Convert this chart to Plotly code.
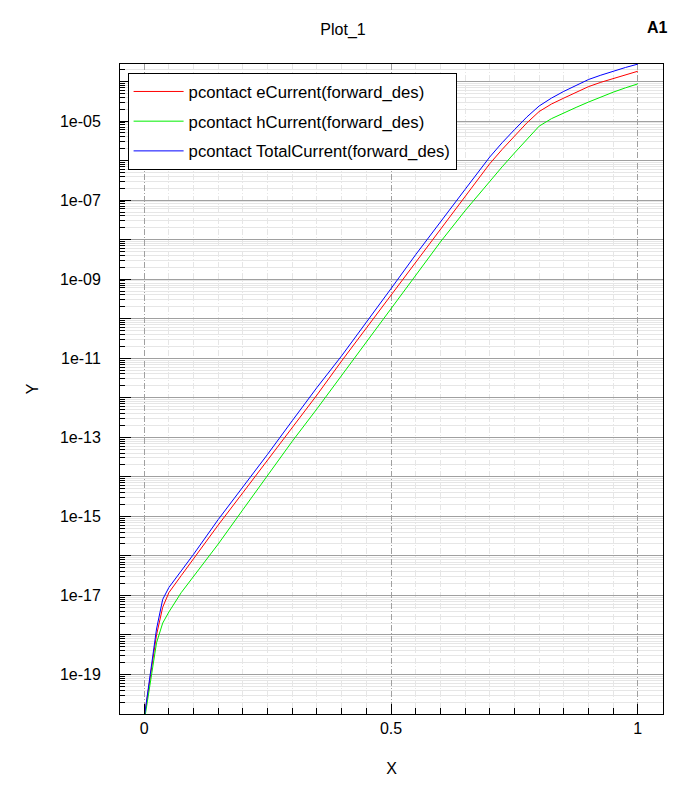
import plotly.graph_objects as go

# ---- data ----
x_bias = [0, 0.0125, 0.025, 0.0375, 0.05, 0.075, 0.1, 0.15, 0.2, 0.25, 0.3, 0.35,
          0.4, 0.45, 0.5, 0.55, 0.6, 0.65, 0.7, 0.725, 0.75, 0.775, 0.8, 0.825, 0.85,
          0.875, 0.9, 0.925, 0.95, 0.975, 1.0]

# log10 of the currents
e_current_log10 = [-20.1, -19.0, -18.0, -17.3, -16.93, -16.5, -16.07, -15.22, -14.4,
                   -13.58, -12.75, -11.93, -11.07, -10.24, -9.4, -8.58, -7.72, -6.9,
                   -6.08, -5.72, -5.38, -5.05, -4.76, -4.57, -4.42, -4.265, -4.13,
                   -4.02, -3.92, -3.825, -3.74]
h_current_log10 = [-20.2, -19.15, -18.2, -17.7, -17.42, -16.93, -16.52, -15.7, -14.83,
                   -13.95, -13.1, -12.28, -11.44, -10.58, -9.75, -8.9, -8.06, -7.27,
                   -6.52, -6.16, -5.81, -5.46, -5.13, -4.94, -4.79, -4.655, -4.52,
                   -4.39, -4.27, -4.16, -4.06]
total_current_log10 = [-20.1, -19.0, -17.85, -17.1, -16.8, -16.38, -15.96, -15.08, -14.27,
                       -13.43, -12.58, -11.74, -10.94, -10.1, -9.24, -8.38, -7.54, -6.73,
                       -5.91, -5.55, -5.22, -4.9, -4.62, -4.42, -4.25, -4.09, -3.95,
                       -3.84, -3.74, -3.645, -3.56]

series_names = ["pcontact eCurrent(forward_des)",
                "pcontact hCurrent(forward_des)",
                "pcontact TotalCurrent(forward_des)"]
series_colors = ["#ff0000", "#00ee00", "#0000ff"]

decade_exponents = list(range(-20, -3))
x_major_ticks = [0, 0.5, 1]
x_major_labels = ["0", "0.5", "1"]

# ---- figure ----
# the page body adds an 8px offset, so the figure is 8px smaller than the window
FONT = "Liberation Sans, Arial, sans-serif"
W, H = 679, 793
fig = go.Figure()
for i, (name, vals, col) in enumerate(zip(series_names,
                                          [e_current_log10, h_current_log10, total_current_log10],
                                          series_colors)):
    fig.add_trace(go.Scatter(
        x=x_bias, y=[10 ** v for v in vals], mode="lines", name=name,
        line=dict(color=col, width=1), legendgroup=f"g{i}"))

y_tickvals = [10.0 ** k for k in decade_exponents]
y_ticktext = [("1e-%02d" % (-k)) if (k % 2 != 0) else "" for k in decade_exponents]
y_minor_vals = [m * 10.0 ** k for k in decade_exponents for m in range(2, 10)]

fig.update_layout(
    width=W, height=H,
    margin=dict(l=112, r=24, t=56, b=87),
    paper_bgcolor="white", plot_bgcolor="white",
    font=dict(family=FONT, size=16, color="#000000"),
    title=dict(text="Plot_1", x=(343 - 8) / W, xref="container", xanchor="center",
               y=1 - (29 - 8) / H, yref="container", yanchor="middle",
               font=dict(family=FONT, size=16, color="#000000")),
    showlegend=True,
    legend=dict(x=0.014, y=0.986, xanchor="left", yanchor="top",
                bgcolor="white", bordercolor="#000000", borderwidth=1,
                font=dict(family=FONT, size=16.7, color="#000000"),
                itemwidth=50, tracegroupgap=5, traceorder="grouped"),
    xaxis=dict(
        range=[-0.049, 1.051], showline=True, linecolor="#000000", linewidth=1, mirror=True,
        tickmode="array", tickvals=x_major_ticks, ticktext=x_major_labels,
        ticks="inside", ticklen=10, tickcolor="#000000", tickwidth=1,
        ticklabelstandoff=0,
        showgrid=True, gridcolor="#a0a0a0", gridwidth=1, griddash="6px,2px,1px,2px",
        zeroline=False,
        minor=dict(dtick=0.05, tick0=0, ticks="inside", ticklen=6, tickcolor="#000000",
                   showgrid=True, gridcolor="#e6e6e6", gridwidth=1),
        title=dict(text="X", font=dict(family=FONT, size=16, color="#000000"), standoff=26),
        tickfont=dict(family=FONT, size=16, color="#000000"),
    ),
    yaxis=dict(
        type="log", range=[-20, -3.557], showline=True, linecolor="#000000", linewidth=1,
        mirror=True,
        tickmode="array", tickvals=y_tickvals, ticktext=y_ticktext,
        ticks="inside", ticklen=11, tickcolor="#000000", tickwidth=1,
        ticklabelstandoff=15,
        showgrid=True, gridcolor="#a0a0a0", gridwidth=1,
        zeroline=False,
        minor=dict(tickmode="array", tickvals=y_minor_vals, ticks="inside", ticklen=5,
                   tickcolor="#000000", showgrid=True, gridcolor="#e6e6e6", gridwidth=1),
        title=dict(text="Y", font=dict(family=FONT, size=16, color="#000000"), standoff=17),
        tickfont=dict(family=FONT, size=16, color="#000000"),
    ),
)

fig.add_annotation(text="<b>A1</b>", xref="paper", yref="paper",
                   x=(670 - 120) / 543, y=(714 - 27) / 650, xanchor="right", yanchor="middle",
                   showarrow=False, font=dict(family=FONT, size=16, color="#000000"))

fig.write_html("out.html")
